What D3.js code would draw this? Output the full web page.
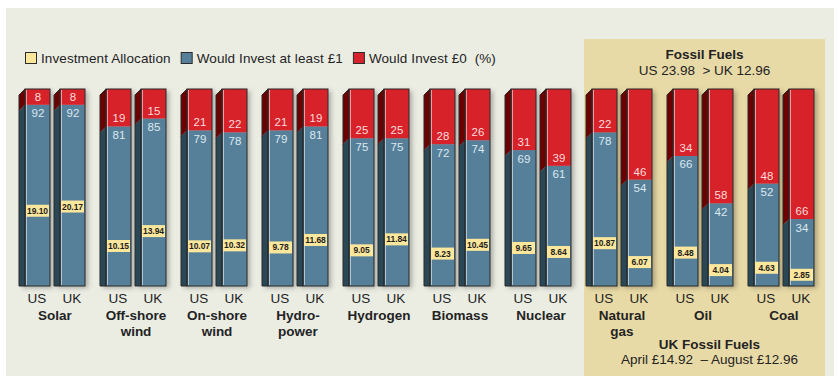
<!DOCTYPE html>
<html>
<head>
<meta charset="utf-8">
<script src="https://cdn.jsdelivr.net/npm/d3@7"></script>
<style>
  html, body { margin: 0; padding: 0; background: #ffffff; }
  svg { display: block; font-family: "Liberation Sans", Arial, sans-serif; }
</style>
</head>
<body>
<svg id="chart" width="838" height="376"></svg>
<script>
// ---- data ----
const categories = ["Solar", "Off-shore wind", "On-shore wind", "Hydro-power", "Hydrogen", "Biomass", "Nuclear", "Natural gas", "Oil", "Coal"];
const categoryLines = [["Solar"], ["Off-shore", "wind"], ["On-shore", "wind"], ["Hydro-", "power"], ["Hydrogen"], ["Biomass"], ["Nuclear"], ["Natural", "gas"], ["Oil"], ["Coal"]];
const countries = ["US", "UK"];
const atLeastUS = [92, 81, 79, 79, 75, 72, 69, 78, 66, 52];
const atLeastUK = [92, 85, 78, 81, 75, 74, 61, 54, 42, 34];
const zeroUS = [8, 19, 21, 21, 25, 28, 31, 22, 34, 48];
const zeroUK = [8, 15, 22, 19, 25, 26, 39, 46, 58, 66];
const allocUS = [19.10, 10.15, 10.07, 9.78, 9.05, 8.23, 9.65, 10.87, 8.48, 4.63];
const allocUK = [20.17, 13.94, 10.32, 11.68, 11.84, 10.45, 8.64, 6.07, 4.04, 2.85];
const legendLabels = ["Investment Allocation", "Would Invest at least £1", "Would Invest £0  (%)"];
const fossilTitle = "Fossil Fuels";
const fossilSub = "US 23.98  > UK 12.96";
const ukFossilTitle = "UK Fossil Fuels";
const ukFossilSub = "April £14.92  \u2013 August £12.96";
const fossilCats = ["Natural gas", "Oil", "Coal"];

// ---- styles ----
const C = {
  bg: "#ebede3", fossil: "#e8daa6", red: "#d7232b", redSide: "#6c0205",
  blue: "#56809a", blueSide: "#2c4654", yellow: "#fce79c", outline: "#2b2b2b",
  redText: "#fbdcdc", blueText: "#dde8ef", text: "#232323"
};

const svg = d3.select("#chart");
const defs = svg.append("defs");
const f = defs.append("filter").attr("id", "sh").attr("x", "-30%").attr("y", "-10%").attr("width", "170%").attr("height", "130%");
f.append("feDropShadow").attr("dx", 3).attr("dy", 2).attr("stdDeviation", 2.5).attr("flood-color", "#000").attr("flood-opacity", 0.28);

svg.append("rect").attr("x", 6).attr("y", 8).attr("width", 828).attr("height", 368).attr("fill", C.bg);

// scales
const x = d3.scaleBand().domain(categories).range([20, 830]).paddingInner(0).paddingOuter(0);
const xs = d3.scaleBand().domain(countries).range([5, 65]).paddingInner(10 / 35).paddingOuter(0);
const y = d3.scaleLinear().domain([0, 100]).range([286, 89]);
const ya = d3.scaleLinear().domain([0, 50]).range([286, 89]);
const bw = xs.bandwidth();
const depth = 6;

// fossil panel
const fx0 = x(fossilCats[0]) - 3;
svg.append("rect").attr("x", fx0).attr("y", 39).attr("width", 825 - fx0).attr("height", 376 - 39).attr("fill", C.fossil);
const fcx = (fx0 + 825) / 2;
svg.append("text").attr("x", fcx).attr("y", 59).attr("text-anchor", "middle").attr("font-size", 13.5).attr("font-weight", "bold").attr("fill", C.text).text(fossilTitle);
svg.append("text").attr("x", fcx).attr("y", 75).attr("text-anchor", "middle").attr("font-size", 13.5).attr("fill", C.text).style("white-space", "pre").text(fossilSub);
svg.append("text").attr("x", fcx + 5).attr("y", 349).attr("text-anchor", "middle").attr("font-size", 13.5).attr("font-weight", "bold").attr("fill", C.text).text(ukFossilTitle);
svg.append("text").attr("x", fcx + 5).attr("y", 364).attr("text-anchor", "middle").attr("font-size", 13.5).attr("fill", C.text).style("white-space", "pre").text(ukFossilSub);

// legend
const legColors = [C.yellow, C.blue, C.red];
let lx = 25;
legendLabels.forEach((t, i) => {
  const g = svg.append("g");
  g.append("rect").attr("x", lx + 0.5).attr("y", 52.5).attr("width", 11).attr("height", 11).attr("fill", legColors[i]).attr("stroke", C.outline).attr("stroke-width", 1);
  const tx = g.append("text").attr("x", lx + 16).attr("y", 62.5).attr("font-size", 13.5).attr("letter-spacing", "0.1").attr("fill", C.text).style("white-space", "pre").text(t);
  lx = lx + 16 + tx.node().getComputedTextLength() + 10;
});

// bars
const data = [];
categories.forEach((cat, i) => {
  data.push({cat, c: "US", blue: atLeastUS[i], red: zeroUS[i], alloc: allocUS[i]});
  data.push({cat, c: "UK", blue: atLeastUK[i], red: zeroUK[i], alloc: allocUK[i]});
});

const bars = svg.append("g").selectAll("g.bar").data(data).join("g").attr("class", "bar");
bars.each(function(d) {
  const g = d3.select(this);
  const fx = x(d.cat) + xs(d.c);
  const yb = y(d.blue);
  const top = y(d.blue + d.red);
  const bot = y(0);
  const shape = g.append("g").attr("filter", "url(#sh)");
  // side faces
  shape.append("polygon").attr("points", [[fx - depth, yb + depth], [fx, yb], [fx, bot], [fx - depth, bot]].join(" ")).attr("fill", C.blueSide);
  shape.append("polygon").attr("points", [[fx - depth, top + depth], [fx, top], [fx, yb], [fx - depth, yb + depth]].join(" ")).attr("fill", C.redSide);
  // front faces
  shape.append("rect").attr("x", fx).attr("y", yb).attr("width", bw).attr("height", bot - yb).attr("fill", C.blue);
  shape.append("rect").attr("x", fx).attr("y", top).attr("width", bw).attr("height", yb - top).attr("fill", C.red);
  // highlight line
  g.append("line").attr("x1", fx + 1.5).attr("x2", fx + 1.5).attr("y1", top + 1).attr("y2", bot - 1).attr("stroke", "#ffffff").attr("stroke-opacity", 0.55).attr("stroke-width", 1);
  // outlines
  g.append("polygon").attr("points", [[fx - depth, top + depth], [fx, top], [fx, bot], [fx - depth, bot]].join(" ")).attr("fill", "none").attr("stroke", C.outline).attr("stroke-width", 1);
  g.append("rect").attr("x", fx).attr("y", top).attr("width", bw).attr("height", bot - top).attr("fill", "none").attr("stroke", C.outline).attr("stroke-width", 1);
  // value labels
  const cx = fx + bw / 2 + 0.5;
  g.append("text").attr("x", cx).attr("y", yb - 4).attr("text-anchor", "middle").attr("font-size", 11.5).attr("fill", C.redText).text(d.red);
  g.append("text").attr("x", cx).attr("y", yb + 12.5).attr("text-anchor", "middle").attr("font-size", 11.5).attr("fill", C.blueText).text(d.blue);
  // allocation box
  const ay = ya(d.alloc);
  g.append("rect").attr("x", fx + 1).attr("y", ay - 6).attr("width", bw - 2).attr("height", 12).attr("fill", C.yellow);
  g.append("text").attr("x", cx - 0.5).attr("y", ay + 3).attr("text-anchor", "middle").attr("font-size", 8.5).attr("font-weight", "bold").attr("letter-spacing", "-0.1").attr("fill", "#1e1e1e").text(d.alloc.toFixed(2));
  // country label
  g.append("text").attr("x", cx - 1).attr("y", 303).attr("text-anchor", "middle").attr("font-size", 13.5).attr("fill", C.text).text(d.c);
});

// category labels
categories.forEach((cat, i) => {
  const gx = x(cat) + (xs("US") + xs("UK") + bw) / 2;
  const t = svg.append("text").attr("x", gx).attr("y", 320).attr("text-anchor", "middle").attr("font-size", 13.5).attr("font-weight", "bold").attr("fill", C.text);
  categoryLines[i].forEach((ln, j) => {
    t.append("tspan").attr("x", gx).attr("dy", j === 0 ? 0 : 15.5).text(ln);
  });
});
</script>
</body>
</html>
